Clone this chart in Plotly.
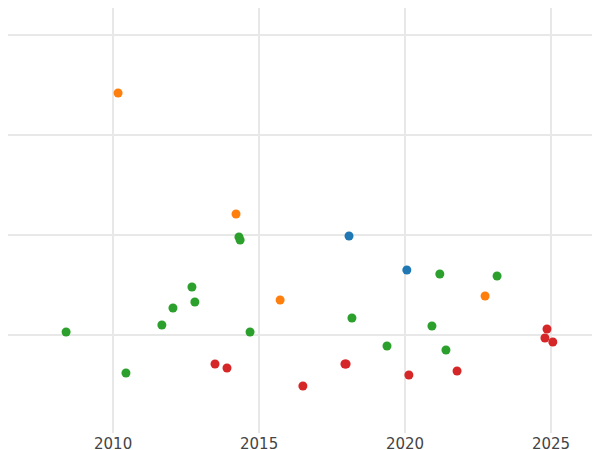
import plotly.graph_objects as go

orange_x = [2010.17, 2014.21, 2015.72, 2022.74]
orange_y = [3.42, 2.21, 1.35, 1.39]
blue_x = [2018.08, 2020.06]
blue_y = [1.99, 1.65]
green_x = [2008.39, 2010.44, 2011.67, 2012.05, 2012.70, 2012.80, 2014.31, 2014.35, 2014.69,
           2018.18, 2019.38, 2020.92, 2021.19, 2021.40, 2023.15]
green_y = [1.03, 0.62, 1.10, 1.27, 1.48, 1.33, 1.98, 1.95, 1.03, 1.17, 0.89, 1.09, 1.61, 0.85, 1.59]
red_x = [2013.49, 2013.90, 2016.50, 2017.94, 2017.98, 2020.13, 2021.78, 2024.86, 2024.79, 2025.06]
red_y = [0.71, 0.67, 0.49, 0.71, 0.71, 0.60, 0.64, 1.06, 0.97, 0.93]

fig = go.Figure()
for xs, ys, c in [(orange_x, orange_y, "#ff7f0e"), (blue_x, blue_y, "#1f77b4"),
                  (green_x, green_y, "#2ca02c"), (red_x, red_y, "#d62728")]:
    fig.add_trace(go.Scatter(x=xs, y=ys, mode="markers",
                             marker=dict(color=c, size=9), showlegend=False))
fig.update_layout(width=600, height=450, margin=dict(l=0, r=0, t=0, b=25, pad=0),
                  plot_bgcolor="white", paper_bgcolor="white",
                  font=dict(family="DejaVu Sans", size=15, color="#444"))
fig.update_xaxes(range=[2006.40, 2026.95], tickvals=[2010, 2015, 2020, 2025], automargin=False,
                 showgrid=True, gridcolor="#e8e8e8", gridwidth=2, zeroline=False, ticks="")
fig.update_yaxes(range=[0.02, 4.27], dtick=1, showticklabels=False, automargin=False,
                 showgrid=True, gridcolor="#e8e8e8", gridwidth=2, zeroline=False)
fig.write_html("out.html")
